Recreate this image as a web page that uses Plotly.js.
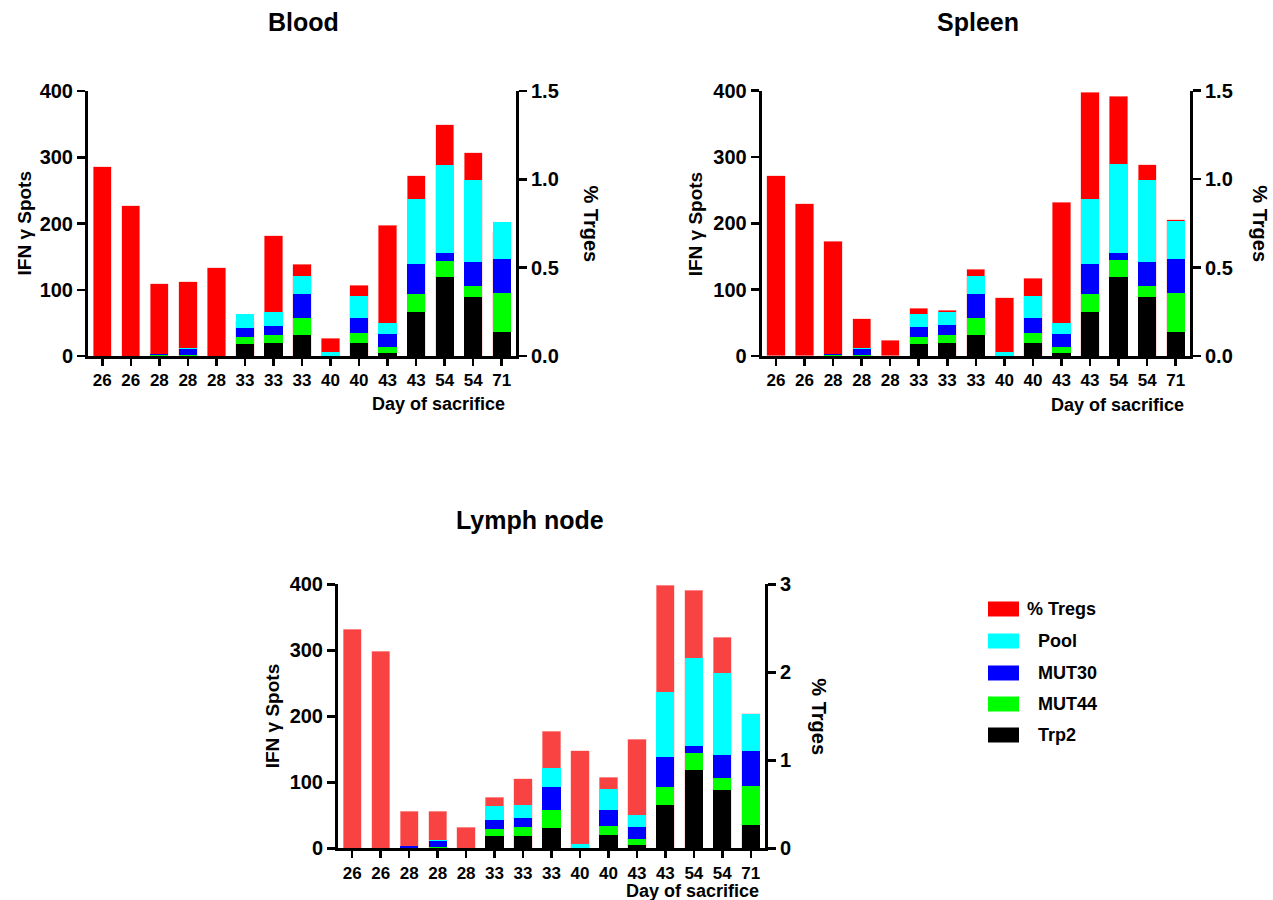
<!DOCTYPE html>
<html>
<head>
<meta charset="utf-8">
<script src="https://cdn.plot.ly/plotly-3.0.1.min.js"></script>
<style>html,body{margin:0;padding:0;background:#fff;}</style>
</head>
<body>
<div id="chart" style="width:1273px;height:900px;"></div>
<script>
// ---- Data ----
const days = ['26','26','28','28','28','33','33','33','40','40','43','43','54','54','71'];
const trp2  = [0,0,0,0,0,18,19,31,0,20,5,66,119,89,36];
const mut44 = [0,0,1,2,0,11,13,27,0,14,9,27,25,17,59];
const mut30 = [0,0,2,9,0,14,14,35,0,24,19,46,11,36,52];
const pool  = [0,0,0,1,0,21,20,28,6,32,17,98,134,123,56];
const tregsBlood  = [1.07,0.85,0.41,0.42,0.50,0.20,0.68,0.52,0.10,0.40,0.74,1.02,1.31,1.15,0.70];
const tregsSpleen = [1.02,0.86,0.65,0.21,0.09,0.27,0.26,0.49,0.33,0.44,0.87,1.49,1.47,1.08,0.77];
const tregsLymph  = [2.49,2.24,0.42,0.42,0.24,0.58,0.79,1.33,1.11,0.81,1.24,2.99,2.93,2.40,1.53];
const panelTitles = ['Blood','Spleen','Lymph node'];
const legendNames = ['% Tregs','Pool','MUT30','MUT44','Trp2'];

// ---- Helpers ----
const W = 1273, H = 900;
const px = x => x / W;
const py = y => 1 - y / H;
const idx = days.map((d, i) => i);
const FONT = 'Liberation Sans, Arial, sans-serif';
const COL = {tregs:'#ff0000', tregsLymph:'#f94343', pool:'#00ffff', mut30:'#0000ff', mut44:'#00ff00', trp2:'#000000'};

const panels = [
  {tregs: tregsBlood,  red: COL.tregs,      x0: 88,    x1: 516,  top: 91,    bot: 356,   rmax: 1.5, rdt: 0.5, rfmt: '.1f',
   title: [303, 22], lt: 24, rt: 590, dos: [438, 404]},
  {tregs: tregsSpleen, red: COL.tregs,      x0: 761.7, x1: 1190, top: 90.7,  bot: 356,   rmax: 1.5, rdt: 0.5, rfmt: '.1f',
   title: [978, 22], lt: 695, rt: 1260, dos: [1117, 405]},
  {tregs: tregsLymph,  red: COL.tregsLymph, x0: 338,   x1: 765,  top: 584.3, bot: 848.3, rmax: 3,   rdt: 1,   rfmt: 'd',
   title: [530, 520], lt: 272, rt: 819, dos: [692, 891]}
];

const traces = [];
const layout = {
  width: W, height: H, autosize: false,
  margin: {l:0, r:0, t:0, b:0},
  paper_bgcolor: '#fff', plot_bgcolor: 'rgba(0,0,0,0)',
  barmode: 'stack', bargap: 0.36,
  showlegend: false,
  font: {family: FONT, color: '#000'},
  annotations: [], shapes: []
};

panels.forEach((p, k) => {
  const xa = k === 0 ? 'x' : 'x' + (k + 1);
  const yBaseN = 2 * k + 1, yOverN = 2 * k + 2;
  const yb = yBaseN === 1 ? 'y' : 'y' + yBaseN;
  const yo = 'y' + yOverN;
  const xKey = k === 0 ? 'xaxis' : 'xaxis' + (k + 1);
  const ybKey = yBaseN === 1 ? 'yaxis' : 'yaxis' + yBaseN;
  const yoKey = 'yaxis' + yOverN;

  // % Tregs (behind) on base axis (right side)
  traces.push({type:'bar', x: idx, y: p.tregs, xaxis: xa, yaxis: yb, name: legendNames[0],
    marker: {color: p.red, line: {color: 'rgba(255,190,190,0.9)', width: 0.6}}, hoverinfo: 'skip'});
  // ELISpot stack on overlay axis (left side)
  [[trp2, COL.trp2, 'Trp2'], [mut44, COL.mut44, 'MUT44'], [mut30, COL.mut30, 'MUT30'], [pool, COL.pool, 'Pool']]
    .forEach(([vals, c, n]) => {
      traces.push({type:'bar', x: idx, y: vals, xaxis: xa, yaxis: yo, name: n,
        marker: {color: c, line: {width: 0}}, hoverinfo: 'skip'});
    });

  layout[xKey] = {
    domain: [px(p.x0), px(p.x1)], anchor: yb, range: [-0.5, 14.5],
    tickmode: 'array', tickvals: idx, ticktext: days,
    showline: true, linecolor: '#000', linewidth: 3,
    ticks: 'outside', ticklen: 7, tickwidth: 2.5, tickcolor: '#000',
    tickfont: {family: FONT, size: 17, weight: 'bold', color: '#000'},
    showgrid: false, zeroline: false, fixedrange: true
  };
  layout[ybKey] = {
    domain: [py(p.bot), py(p.top)], anchor: xa, side: 'right',
    range: [0, p.rmax], dtick: p.rdt, tick0: 0, tickformat: p.rfmt,
    showline: true, linecolor: '#000', linewidth: 3,
    ticks: 'outside', ticklen: 8, tickwidth: 2.5, tickcolor: '#000',
    tickfont: {family: FONT, size: 20, weight: 'bold', color: '#000'},
    showgrid: false, zeroline: false, fixedrange: true
  };
  layout[yoKey] = {
    overlaying: yb, anchor: xa, side: 'left',
    range: [0, 400], dtick: 100, tick0: 0,
    showline: true, linecolor: '#000', linewidth: 3,
    ticks: 'outside', ticklen: 8, tickwidth: 2.5, tickcolor: '#000',
    tickfont: {family: FONT, size: 20, weight: 'bold', color: '#000'},
    showgrid: false, zeroline: false, fixedrange: true
  };

  const ann = (text, x, y, opts) => Object.assign({
    text, x: px(x), y: py(y), xref: 'paper', yref: 'paper', showarrow: false,
    xanchor: 'center', yanchor: 'middle',
    font: {family: FONT, size: 19, weight: 'bold', color: '#000'}
  }, opts || {});
  const mid = (p.top + p.bot) / 2;
  layout.annotations.push(ann(panelTitles[k], p.title[0], p.title[1], {font: {family: FONT, size: 25, weight: 'bold', color: '#000'}}));
  layout.annotations.push(ann('IFN γ Spots', p.lt, mid, {textangle: -90}));
  layout.annotations.push(ann('% Trges', p.rt, mid, {textangle: 90, font: {family: FONT, size: 20, weight: 'bold', color: '#000'}}));
  layout.annotations.push(ann('Day of sacrifice', p.dos[0], p.dos[1], {font: {family: FONT, size: 18, weight: 'bold', color: '#000'}}));
});

// ---- Custom legend ----
const legColors = [COL.tregs, COL.pool, COL.mut30, COL.mut44, COL.trp2];
const legRows = [609, 641, 673, 704, 735];
const legTextX = [1025, 1036, 1036, 1036, 1036];
legendNames.forEach((n, i) => {
  layout.shapes.push({type: 'rect', xref: 'paper', yref: 'paper',
    x0: px(988), x1: px(1019), y0: py(legRows[i] + 7.5), y1: py(legRows[i] - 7.5),
    fillcolor: legColors[i], line: {width: 0}});
  layout.annotations.push({text: n, xref: 'paper', yref: 'paper', x: px(legTextX[i]), y: py(legRows[i]),
    xanchor: 'left', yanchor: 'middle', showarrow: false,
    font: {family: FONT, size: 18, weight: 'bold', color: '#000'}});
});

Plotly.newPlot('chart', traces, layout, {displayModeBar: false, staticPlot: true});
</script>
</body>
</html>
